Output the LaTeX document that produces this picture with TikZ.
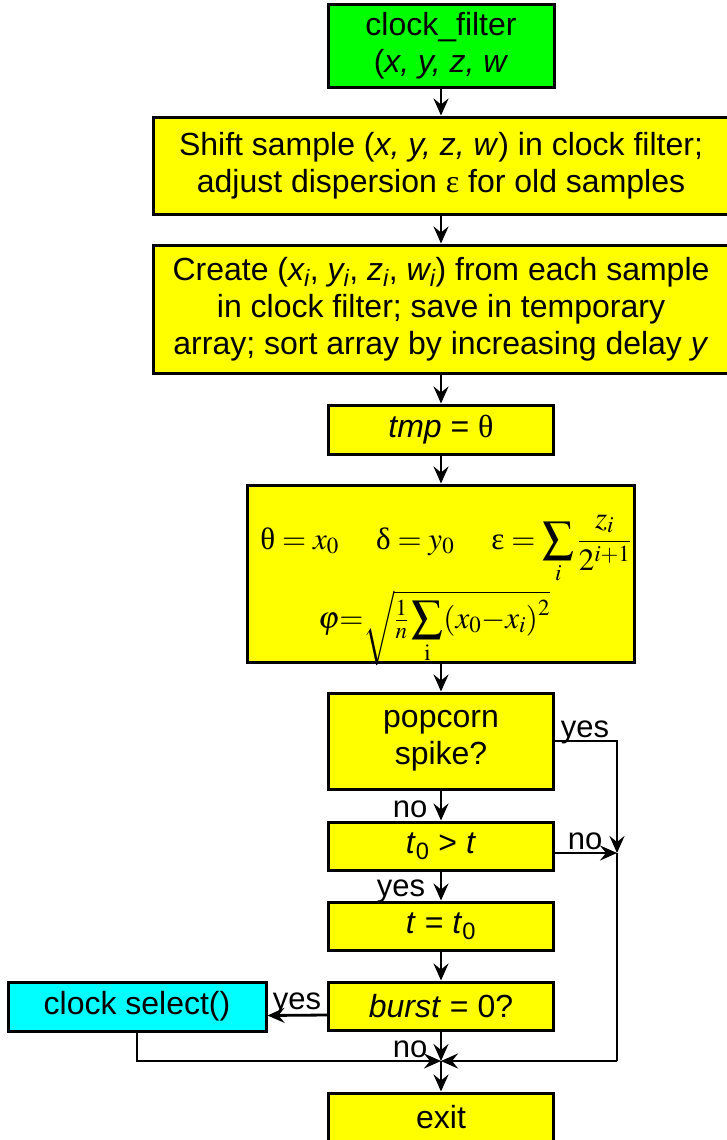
\documentclass[tikz,border=0pt]{standalone}
\usepackage{mathptmx}
\usepackage[no-math]{fontspec}
\setmainfont{Liberation Sans}
\newfontfamily\tms{Liberation Serif}
\usetikzlibrary{arrows.meta}
\definecolor{cyanb}{RGB}{0,255,255}
\definecolor{greenb}{RGB}{0,255,0}
\definecolor{yellowb}{RGB}{255,255,0}
\begin{document}
\begin{tikzpicture}[x=1pt,y=-1pt,
  box/.style={draw=black, line width=3pt, inner sep=0pt, align=center,
    font=\fontsize{32}{37}\selectfont},
  ybox/.style={box, fill=yellowb},
  arr/.style={line width=2.8pt, -{Stealth[length=17pt,width=15pt,inset=6pt]}},
  ln/.style={line width=2.8pt},
  lbl/.style={font=\fontsize{31}{37}\selectfont, inner sep=0pt, anchor=base}]

\useasboundingbox (0,0) rectangle (727,1140);

\node[box, fill=greenb, minimum width=226pt, minimum height=82pt] (cf) at (441,46)
  {clock\_filter\\(\textit{x, y, z, w}};
\node[ybox, minimum width=576pt, minimum height=97pt] (shift) at (441,165.5)
  {Shift sample (\textit{x, y, z, w}) in clock filter;\\adjust dispersion {\tms ε} for old samples};
\node[ybox, minimum width=576pt, minimum height=128pt] (create) at (441,309)
  {Create (\textit{x\textsubscript{i}}, \textit{y\textsubscript{i}}, \textit{z\textsubscript{i}}, \textit{w\textsubscript{i}}) from each sample\\
   in clock filter; save in temporary\\array; sort array by increasing delay \textit{y}};
\node[ybox, minimum width=225pt, minimum height=49pt] (tmp) at (441,429.5)
  {\textit{tmp} = {\tms θ}};
\node[ybox, minimum width=387pt, minimum height=177pt] (form) at (441,573.5) {};
\node[inner sep=0pt, anchor=base, font=\fontsize{31}{36}\selectfont] (f1) at (446,549)
  {$\mbox{\tms θ} = x_0\hspace{1.2em}\mbox{\tms δ} = y_0\hspace{1.2em}\mbox{\tms ε} = \displaystyle\sum_i \frac{z_i}{2^{i+1}}$};
\node[inner sep=0pt, anchor=base, font=\fontsize{31}{36}\selectfont] (f2) at (434,628)
  {$\displaystyle \varphi {=} \sqrt{\textstyle\frac{1}{n}\displaystyle\sum_{\mathrm{i}}(x_0 {-} x_i)^2}$};
\node[ybox, minimum width=225pt, minimum height=96pt] (pop) at (441,741)
  {popcorn\\spike?};
\node[ybox, minimum width=225pt, minimum height=48pt] (tgt) at (441,846)
  {\textit{t}\textsubscript{0} > \textit{t}};
\node[ybox, minimum width=225pt, minimum height=48pt] (teq) at (441,926)
  {\textit{t} = \textit{t}\textsubscript{0}};
\node[ybox, minimum width=225pt, minimum height=48pt] (burst) at (441,1006)
  {\textit{burst} = 0?};
\node[box, fill=cyanb, minimum width=258pt, minimum height=49pt] (sel) at (137,1006.5)
  {clock select()};
\node[ybox, minimum width=225pt, minimum height=48pt] (exit) at (441,1117)
  {exit};

\coordinate (j) at (441,1061);
\coordinate (r1) at (617,741);
\coordinate (r2) at (617,853);
\coordinate (r3) at (617,1061);
\coordinate (l1) at (137,1061);

\draw[arr] (cf) -- (shift);
\draw[arr] (shift) -- (create);
\draw[arr] (create) -- (tmp);
\draw[arr] (tmp) -- (form);
\draw[arr] (form) -- (pop);
\draw[arr] (pop) -- (tgt);
\draw[arr] (tgt) -- (teq);
\draw[arr] (teq) -- (burst);
\draw[arr] (burst) -- (j);
\draw[arr] (j) -- (exit);
\draw[arr] (pop.east |- r1) -- (r1) -- (r2);
\draw[ln] (r2) -- (r3);
\draw[arr] (r3) -- (j);
\draw[arr] (tgt.east |- r2) -- (r2);
\draw[arr] ([yshift=-9pt]burst.west) -- ([yshift=-9pt]sel.east);
\draw[arr] (sel) -- (l1) -- (j);

\node[lbl] (yes1) at (585,737) {yes};
\node[lbl] (no1) at (410,817) {no};
\node[lbl] (no2) at (585,849) {no};
\node[lbl] (yes2) at (401,896) {yes};
\node[lbl] (yes3) at (297,1009) {yes};
\node[lbl] (no3) at (410,1057) {no};
\end{tikzpicture}
\end{document}
